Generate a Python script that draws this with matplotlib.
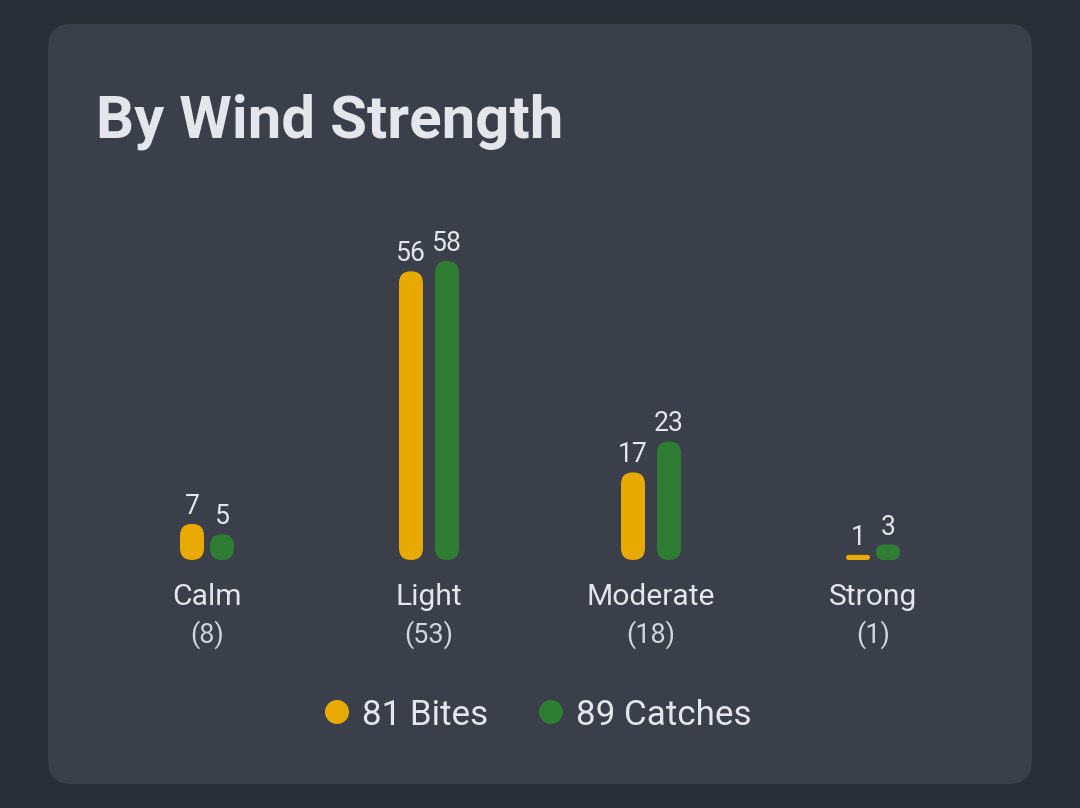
import matplotlib.pyplot as plt
from matplotlib.patches import FancyBboxPatch, Circle

# data
categories = ["Calm", "Light", "Moderate", "Strong"]
sessions = [8, 53, 18, 1]
bites = [7, 56, 17, 1]
catches = [5, 58, 23, 3]
total_bites = 81
total_catches = 89

BG = "#2a2e37"
CARD = "#3a3f4a"
YELLOW = "#e8a900"
GREEN = "#2e7d32"
TEXT = "#e4e6eb"
SUB = "#d2d5dc"

plt.rcParams['font.family'] = ['Roboto', 'DejaVu Sans']

W, H = 1080, 808
fig = plt.figure(figsize=(W / 100, H / 100), dpi=100)
fig.patch.set_facecolor(BG)


def pt(px):
    return px * 0.72


# background axes in pixel coordinates
bg = fig.add_axes([0, 0, 1, 1])
bg.set_xlim(0, W)
bg.set_ylim(H, 0)
bg.axis('off')
bg.add_patch(FancyBboxPatch((48, 24), 984, 760, boxstyle="round,pad=0,rounding_size=24",
                            facecolor=CARD, edgecolor='none'))
bg.text(96, 137, "By Wind Strength", fontsize=pt(60), fontweight='bold',
        color=TEXT, ha='left', va='baseline')

# bar axes: x from 96 to 984 px, baseline at y=560, top at 261
base_y, top_y = 560, 261
ax = fig.add_axes([96 / W, (H - base_y) / H, 888 / W, (base_y - top_y) / H])
ax.set_xlim(-0.5, len(categories) - 0.5)
ax.set_ylim(0, max(max(bites), max(catches)))
ax.axis('off')

px_x = 888 / len(categories)           # pixels per x unit
px_y = (base_y - top_y) / ax.get_ylim()[1]  # pixels per y unit
bar_w = 24


def col_w(v):
    return max(24, 15 * len(str(v)))


for i, (b, c) in enumerate(zip(bites, catches)):
    d = 6 + (col_w(b) + col_w(c)) / 2
    for v, off, color in [(b, -d / 2, YELLOW), (c, d / 2, GREEN)]:
        x0 = i + (off - bar_w / 2) / px_x
        r = min(bar_w / 2, v * px_y / 2)
        ax.add_patch(FancyBboxPatch(
            (x0, 0), bar_w / px_x, v,
            boxstyle=f"round,pad=0,rounding_size={r / px_x}",
            mutation_aspect=px_x / px_y, facecolor=color, edgecolor='none'))
        ax.annotate(str(v), (i + off / px_x, v), xytext=(0, pt(10)),
                    textcoords='offset points', ha='center', va='baseline',
                    fontsize=pt(26.5), color=TEXT)
    ax.annotate(categories[i], (i, 0), xytext=(0, -pt(45)), textcoords='offset points',
                ha='center', va='baseline', fontsize=pt(30), color=TEXT,
                annotation_clip=False)
    ax.annotate(f"({sessions[i]})", (i, 0), xytext=(0, -pt(83)), textcoords='offset points',
                ha='center', va='baseline', fontsize=pt(27), color=SUB,
                annotation_clip=False)

# legend
bg.add_patch(Circle((337, 712), 12, facecolor=YELLOW, edgecolor='none'))
bg.text(362, 725, f"{total_bites} Bites", fontsize=pt(35), color=TEXT,
        ha='left', va='baseline')
bg.add_patch(Circle((551, 712), 12, facecolor=GREEN, edgecolor='none'))
bg.text(576, 725, f"{total_catches} Catches", fontsize=pt(35), color=TEXT,
        ha='left', va='baseline')

fig.savefig("out.png", dpi=100, facecolor=BG)
